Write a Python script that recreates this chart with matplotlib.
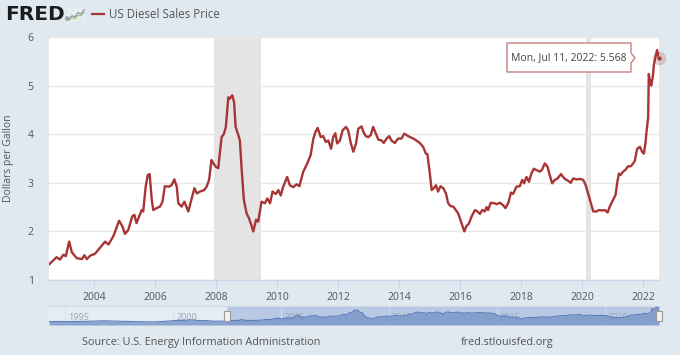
import matplotlib
matplotlib.use("Agg")
import matplotlib.pyplot as plt
import numpy as np
from matplotlib.patches import Polygon, Rectangle, Circle

# ---------------- data ----------------
years = [2002.52, 2002.77, 2002.88, 2002.99, 2003.07, 2003.18, 2003.27, 2003.43, 2003.60, 2003.68,
         2003.76, 2003.87, 2004.03, 2004.19, 2004.36, 2004.47, 2004.63, 2004.82, 2004.93, 2005.01,
         2005.12, 2005.25, 2005.32, 2005.39, 2005.56, 2005.61, 2005.69, 2005.76, 2005.82, 2005.89,
         2005.94, 2006.05, 2006.16, 2006.24, 2006.32, 2006.45, 2006.54, 2006.63, 2006.71, 2006.76,
         2006.87, 2006.96, 2007.09, 2007.20, 2007.29, 2007.37, 2007.47, 2007.61, 2007.69, 2007.77,
         2007.85, 2007.91, 2007.99, 2008.07, 2008.18, 2008.26, 2008.32, 2008.40, 2008.45, 2008.53,
         2008.59, 2008.64, 2008.73, 2008.78, 2008.84, 2008.91, 2009.00, 2009.08, 2009.16, 2009.22,
         2009.31, 2009.38, 2009.49, 2009.60, 2009.68, 2009.77, 2009.85, 2009.96, 2010.04, 2010.12,
         2010.20, 2010.33, 2010.42, 2010.53, 2010.64, 2010.73, 2010.86, 2010.99, 2011.10, 2011.19,
         2011.26, 2011.33, 2011.43, 2011.51, 2011.60, 2011.68, 2011.77, 2011.84, 2011.91, 2011.97,
         2012.06, 2012.15, 2012.26, 2012.33, 2012.42, 2012.50, 2012.59, 2012.66, 2012.77, 2012.83,
         2012.91, 2012.99, 2013.07, 2013.15, 2013.24, 2013.32, 2013.43, 2013.50, 2013.59, 2013.68,
         2013.75, 2013.86, 2013.97, 2014.08, 2014.17, 2014.25, 2014.36, 2014.47, 2014.57, 2014.68,
         2014.79, 2014.88, 2014.93, 2015.01, 2015.07, 2015.14, 2015.21, 2015.28, 2015.36, 2015.45,
         2015.54, 2015.61, 2015.69, 2015.78, 2015.86, 2015.94, 2016.05, 2016.14, 2016.21, 2016.29,
         2016.38, 2016.49, 2016.57, 2016.65, 2016.73, 2016.81, 2016.87, 2016.92, 2017.01, 2017.12,
         2017.20, 2017.31, 2017.41, 2017.49, 2017.58, 2017.67, 2017.74, 2017.85, 2017.96, 2018.04,
         2018.10, 2018.18, 2018.26, 2018.34, 2018.42, 2018.51, 2018.62, 2018.69, 2018.78, 2018.87,
         2018.94, 2019.02, 2019.11, 2019.20, 2019.31, 2019.38, 2019.46, 2019.55, 2019.63, 2019.71,
         2019.82, 2019.93, 2020.04, 2020.11, 2020.20, 2020.29, 2020.37, 2020.48, 2020.55, 2020.66,
         2020.75, 2020.84, 2020.91, 2021.02, 2021.10, 2021.16, 2021.21, 2021.26, 2021.35, 2021.43,
         2021.51, 2021.60, 2021.68, 2021.73, 2021.81, 2021.90, 2021.97, 2022.03, 2022.08, 2022.12,
         2022.17, 2022.19, 2022.23, 2022.27, 2022.32, 2022.36, 2022.42, 2022.46, 2022.49, 2022.525]
prices = [1.32, 1.47, 1.42, 1.52, 1.49, 1.79, 1.57, 1.45, 1.43, 1.51,
          1.43, 1.50, 1.54, 1.66, 1.79, 1.73, 1.90, 2.22, 2.10, 1.95,
          2.03, 2.31, 2.34, 2.17, 2.44, 2.41, 2.92, 3.16, 3.18, 2.65,
          2.44, 2.48, 2.51, 2.61, 2.93, 2.92, 2.95, 3.07, 2.92, 2.58,
          2.51, 2.61, 2.41, 2.68, 2.89, 2.78, 2.82, 2.85, 2.92, 3.06,
          3.47, 3.40, 3.33, 3.30, 3.94, 4.01, 4.15, 4.76, 4.73, 4.80,
          4.66, 4.15, 3.98, 3.87, 3.26, 2.65, 2.37, 2.27, 2.12, 2.00,
          2.24, 2.20, 2.61, 2.58, 2.68, 2.58, 2.82, 2.77, 2.85, 2.74,
          2.92, 3.12, 2.95, 2.91, 2.97, 2.93, 3.23, 3.40, 3.57, 3.91,
          4.05, 4.13, 3.94, 3.96, 3.84, 3.87, 3.70, 3.94, 4.02, 3.81,
          3.87, 4.08, 4.15, 4.08, 3.81, 3.64, 3.81, 4.11, 4.16, 4.05,
          3.96, 3.94, 3.98, 4.15, 4.01, 3.89, 3.87, 3.82, 3.91, 3.96,
          3.87, 3.82, 3.91, 3.91, 4.01, 3.98, 3.94, 3.91, 3.87, 3.82,
          3.74, 3.60, 3.59, 3.19, 2.85, 2.89, 2.95, 2.82, 2.93, 2.89,
          2.78, 2.58, 2.52, 2.51, 2.44, 2.37, 2.17, 2.00, 2.11, 2.16,
          2.31, 2.44, 2.41, 2.36, 2.44, 2.41, 2.50, 2.44, 2.59, 2.58,
          2.56, 2.59, 2.54, 2.48, 2.58, 2.80, 2.77, 2.92, 2.93, 3.06,
          2.99, 3.12, 3.02, 3.19, 3.29, 3.26, 3.23, 3.27, 3.40, 3.33,
          3.16, 2.99, 3.06, 3.09, 3.18, 3.12, 3.07, 3.04, 3.00, 3.09,
          3.07, 3.08, 3.06, 2.97, 2.78, 2.58, 2.41, 2.41, 2.44, 2.43,
          2.44, 2.39, 2.51, 2.65, 2.75, 3.02, 3.19, 3.16, 3.23, 3.27,
          3.34, 3.34, 3.40, 3.45, 3.70, 3.74, 3.64, 3.60, 3.81, 4.08,
          4.35, 5.24, 5.10, 5.00, 5.17, 5.44, 5.61, 5.73, 5.66, 5.568]

# earlier history shown only in the navigator
nav_years_early = [1994.25, 1994.6, 1995.0, 1995.5, 1996.0, 1996.4, 1996.8, 1997.2, 1997.6, 1998.0,
                   1998.5, 1999.1, 1999.6, 2000.1, 2000.4, 2000.8, 2001.2, 2001.6, 2001.9, 2002.2]
nav_prices_early = [1.10, 1.13, 1.10, 1.12, 1.18, 1.27, 1.35, 1.25, 1.18, 1.12,
                    1.03, 0.97, 1.15, 1.45, 1.42, 1.65, 1.45, 1.40, 1.20, 1.22]

recessions = [(2007.92, 2009.46), (2020.12, 2020.29)]
x_ticks = [2004, 2006, 2008, 2010, 2012, 2014, 2016, 2018, 2020, 2022]
y_ticks = [1, 2, 3, 4, 5, 6]
nav_ticks = [1995, 2000, 2005, 2010, 2015, 2020]

series_name = "US Diesel Sales Price"
y_label = "Dollars per Gallon"
tooltip_text = "Mon, Jul 11, 2022: 5.568"
source_text = "Source: U.S. Energy Information Administration"
site_text = "fred.stlouisfed.org"

# ---------------- style ----------------
BG = "#e1e9f0"
LINE = "#a83535"
TXT = "#555555"
plt.rcParams['font.family'] = ['Open Sans', 'DejaVu Sans']

W, H = 680, 355
fig = plt.figure(figsize=(W / 100, H / 100), dpi=100, facecolor=BG)

def fx(px):
    return px / W

def fy(py):
    return 1 - py / H

# ---------------- main axes ----------------
ax = fig.add_axes([fx(49), fy(280), fx(659) - fx(49), fy(37) - fy(280)])
ax.set_facecolor("white")
ax.set_xlim(years[0], years[-1])
ax.set_ylim(1, 6)
for a, b in recessions:
    ax.axvspan(a, b, color="#e4e4e4", lw=0, zorder=0)
ax.set_yticks(y_ticks)
ax.set_xticks(x_ticks)
ax.grid(axis="y", color="#e8e8e8", lw=1.0, zorder=1)
ax.plot(years, prices, color=LINE, lw=1.7, zorder=3, solid_joinstyle="round")
for s in ["top", "right", "left"]:
    ax.spines[s].set_visible(False)
ax.spines["bottom"].set_color("#ccd6eb")
ax.spines["bottom"].set_linewidth(1.0)
ax.tick_params(axis="y", length=0, labelsize=7.5, labelcolor=TXT, pad=11)
ax.tick_params(axis="x", length=6, color="#ccd6eb", labelsize=7.5, labelcolor=TXT, pad=3)
ax.set_yticklabels([str(v) for v in y_ticks])
ax.set_xticklabels([str(v) for v in x_ticks])
ax.set_ylabel(y_label, fontsize=7.5, color=TXT, labelpad=10)

# highlighted last point
ax.scatter([years[-1]], [prices[-1]], s=95, color=LINE, alpha=0.22, lw=0, zorder=4, clip_on=False)
ax.scatter([years[-1]], [prices[-1]], s=9, color=LINE, lw=0, zorder=5, clip_on=False)

# tooltip (anchored to last point, in display pixels)
fig.canvas.draw()
px, py = ax.transData.transform((years[-1], prices[-1]))
r = px - 28
l = px - 152
t = py + 15
b = py - 14
tip = px - 24
poly = Polygon([(l, b), (r, b), (r, py - 5), (tip, py), (r, py + 5), (r, t), (l, t)],
               closed=True, facecolor="white", edgecolor="#c98080", lw=1.0,
               transform=None, zorder=10)
fig.patches.append(poly)
tx, ty = fig.transFigure.inverted().transform(((l + r) / 2, py))
fig.text(tx, ty, tooltip_text, ha="center", va="center", fontsize=7.5, color="#444444", zorder=11)

# ---------------- navigator ----------------
nav = fig.add_axes([fx(49), fy(325), fx(659) - fx(49), fy(306) - fy(325)])
nav_x = nav_years_early + years
nav_y = nav_prices_early + prices
nav.set_facecolor("#e6ecf3")
nav.set_xlim(nav_x[0], nav_x[-1])
nav.set_ylim(0.0, 6.1)
nav.axvspan(years[0], years[-1], color="#b9c8e3", lw=0, zorder=0)
for tk in nav_ticks:
    nav.axvline(tk, color="#d8dfe9", lw=0.6, zorder=0.5)
    nav.text(tk + 0.15, 1.0, str(tk), fontsize=6.5, color="#9aa5b5", ha="left", va="bottom", zorder=1)
nav.fill_between(nav_x, nav_y, 0, color="#7b98c9", alpha=0.85, lw=0, zorder=2)
nav.plot(nav_x, nav_y, color="#5b7fbd", lw=0.8, zorder=3)
nav.set_xticks([])
nav.set_yticks([])
for s in nav.spines.values():
    s.set_visible(False)
nav.axhline(6.1, color="#cfd8e3", lw=0.8, clip_on=False)
# handles
for hx in (years[0], years[-1]):
    hpx, _ = nav.transData.transform((hx, 0))
    _, hpy0 = nav.transData.transform((0, 1.3))
    _, hpy1 = nav.transData.transform((0, 4.6))
    rect = Rectangle((hpx - 3, hpy0), 6, hpy1 - hpy0, transform=None,
                     facecolor="#f2f2f2", edgecolor="#999999", lw=0.8, zorder=12)
    fig.patches.append(rect)

# ---------------- header ----------------
fig.text(fx(5), fy(14.5), "FRED", fontsize=14.5, fontweight="heavy", color="#1c1c1c",
         ha="left", va="center", family="DejaVu Sans")
fig.text(fx(64.5), fy(20), "®", fontsize=3.5, color="#1c1c1c", ha="left", va="center")
icon = fig.add_axes([fx(68), fy(22), fx(17), fy(0) - fy(14)])
icon.set_facecolor("#e9ecee")
icon.set_xticks([]); icon.set_yticks([])
for s in icon.spines.values():
    s.set_visible(False)
icon.plot([0, 1, 2, 3, 4, 5], [1, 2, 1.7, 3, 2.6, 4], color="#6b8fc7", lw=0.8)
icon.plot([0, 1, 2, 3, 4, 5], [0.5, 1.4, 1.0, 2.2, 2.0, 3.2], color="#9cc16b", lw=0.8)
icon.set_xlim(-0.3, 5.3); icon.set_ylim(0, 4.5)

fig.add_artist(plt.Line2D([fx(92), fx(104)], [fy(14), fy(14)], color=LINE, lw=1.6))
fig.text(fx(109), fy(14), series_name, fontsize=8.3, color=TXT, ha="left", va="center")

# ---------------- footer ----------------
fig.text(fx(82), fy(343), source_text, fontsize=7.8, color=TXT, ha="left", va="center")
fig.text(fx(507), fy(343), site_text, fontsize=7.8, color=TXT, ha="center", va="center")

fig.savefig("out.png", dpi=100, facecolor=BG)
